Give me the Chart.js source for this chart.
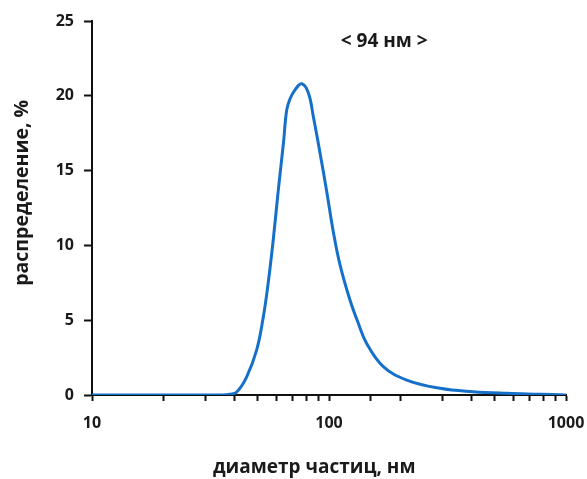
<!DOCTYPE html>
<html>
<head>
<meta charset="utf-8">
<script src="https://cdn.jsdelivr.net/npm/chart.js@4.4.0/dist/chart.umd.min.js"></script>
<style>
  html, body { margin: 0; padding: 0; background: #fff; }
  #wrap { width: 587px; height: 479px; }
</style>
</head>
<body>
<div id="wrap"><canvas id="myChart"></canvas></div>
<script>
// particle diameter, nm
const diameters = [10, 20, 30, 35, 38.2, 40.8, 44.9, 49.5, 52.8, 55.4, 58.2, 61.1, 64.2, 66.3, 68.5, 71.9, 76.7, 81.8, 85.9, 91.6, 97.8, 104.3, 111.3, 122.6, 132.9, 144.2, 169.5, 212.7, 294, 405, 562, 777, 1000];
// distribution, %
const distribution = [0, 0, 0, 0, 0.05, 0.2, 1.2, 3.0, 5.2, 7.5, 10.4, 13.7, 16.8, 19.05, 19.8, 20.4, 20.8, 20.2, 18.6, 16.2, 13.6, 10.9, 8.7, 6.35, 4.8, 3.45, 1.9, 1.0, 0.45, 0.22, 0.11, 0.05, 0];
const xLabels = [10, 100, 1000];
const yTicks = [0, 5, 10, 15, 20, 25];
const note = { text: '< 94 нм >', x: 171, y: 23.6 };

const points = diameters.map((d, i) => ({ x: d, y: distribution[i] }));

const noteLabel = {
  id: 'noteLabel',
  afterDraw(chart) {
    const c = chart.ctx;
    c.save();
    c.font = 'bold 19px "Open Sans"';
    c.fillStyle = '#1a1a1a';
    c.textAlign = 'center';
    c.textBaseline = 'middle';
    c.fillText(note.text, chart.scales.x.getPixelForValue(note.x), chart.scales.y.getPixelForValue(note.y));
    c.restore();
  }
};

const ctx = document.getElementById('myChart').getContext('2d');
const myChart = new Chart(ctx, {
  type: 'line',
  data: {
    datasets: [{
      data: points,
      borderColor: 'rgb(20, 112, 200)',
      borderWidth: 3,
      pointRadius: 0,
      fill: false,
      tension: 0.4
    }]
  },
  options: {
    responsive: true,
    maintainAspectRatio: false,
    animation: false,
    layout: { padding: { left: 7, top: 21, right: 21, bottom: 0 } },
    plugins: { legend: { display: false }, tooltip: { enabled: false } },
    scales: {
      x: {
        type: 'logarithmic',
        min: 10,
        max: 1000,
        afterFit(scale) { scale.height = 84; scale.paddingLeft = 0; scale.paddingRight = 0; },
        border: { color: '#111', width: 2 },
        grid: { drawOnChartArea: false, tickLength: 6, tickColor: '#111', tickWidth: 2 },
        ticks: {
          autoSkip: false,
          maxRotation: 0,
          padding: 13,
          color: '#1a1a1a',
          font: { family: '"Open Sans"', size: 16, weight: 'bold' },
          callback: v => xLabels.includes(v) ? String(v) : ''
        },
        title: {
          display: true,
          text: 'диаметр частиц, нм      ',
          color: '#1a1a1a',
          padding: { top: 4, bottom: 0 },
          font: { family: '"Open Sans"', size: 19, weight: 'bold' }
        }
      },
      y: {
        min: 0,
        max: 25,
        afterFit(scale) { scale.width = 85; },
        afterBuildTicks(scale) { scale.ticks = yTicks.map(v => ({ value: v })); },
        border: { color: '#111', width: 2 },
        grid: { drawOnChartArea: false, tickLength: 8, tickColor: '#111', tickWidth: 2 },
        ticks: {
          padding: 10,
          color: '#1a1a1a',
          font: { family: '"Open Sans"', size: 16, weight: 'bold' }
        },
        title: {
          display: true,
          text: '      распределение, %',
          color: '#1a1a1a',
          padding: 4,
          font: { family: '"Open Sans"', size: 19.5, weight: 'bold' }
        }
      }
    }
  },
  plugins: [noteLabel]
});
</script>
</body>
</html>
